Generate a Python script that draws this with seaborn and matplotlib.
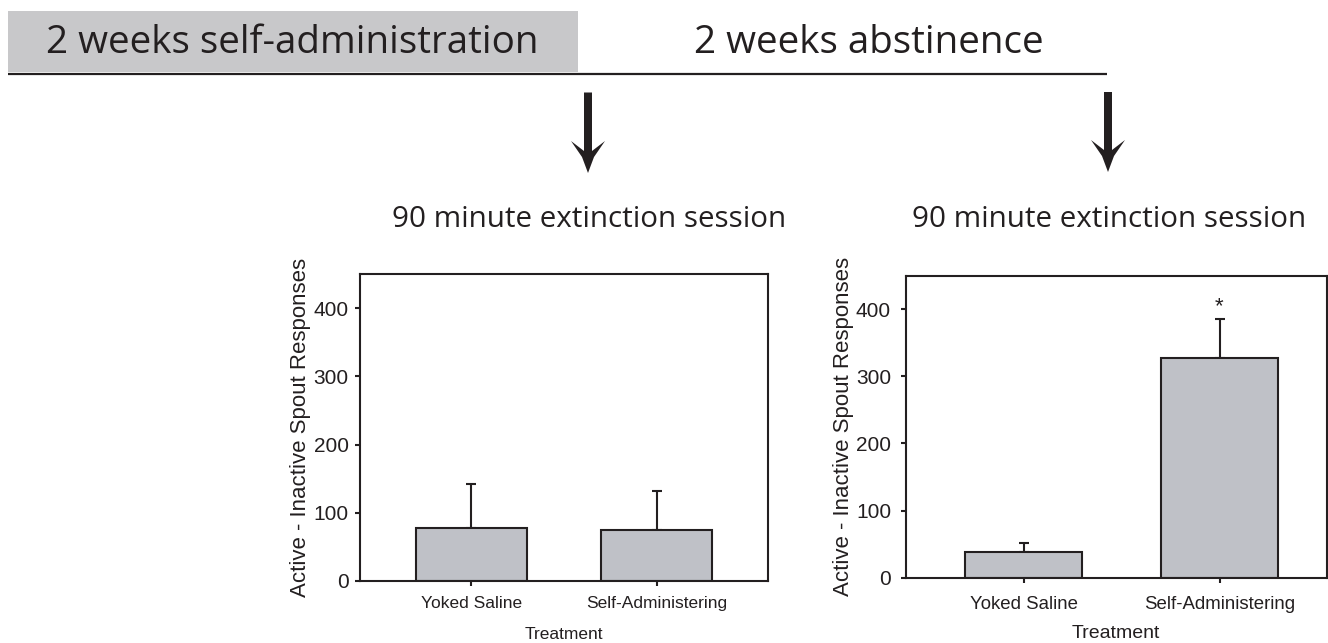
import numpy as np
import matplotlib
matplotlib.use("Agg")
import matplotlib.pyplot as plt
import seaborn as sns

# values
categories = ["Yoked Saline", "Self-Administering"]
early_means = [78, 75]      # after 2 weeks self-administration
early_sem = [64, 57]
late_means = [39, 327]      # after 2 weeks abstinence
late_sem = [13, 58]
yticks = [0, 100, 200, 300, 400]

INK = "#231f20"
BAR = "#bfc1c7"
BOX = "#c8c8ca"
W, H = 1328, 643

sns.set_theme(style="ticks")
plt.rcParams["font.family"] = ["Liberation Sans", "DejaVu Sans"]
header = ["Open Sans", "DejaVu Sans"]

fig = plt.figure(figsize=(W / 100, H / 100), dpi=100)

# overlay in pixel coordinates for the timeline header and arrows
ov = fig.add_axes([0, 0, 1, 1], zorder=0)
ov.set_xlim(0, W)
ov.set_ylim(H, 0)
ov.axis("off")
ov.add_patch(plt.Rectangle((8, 11), 570, 61, color=BOX, lw=0))
ov.plot([8, 1107], [74, 74], color=INK, lw=1.6, solid_capstyle="butt")
ov.text(292, 53, "2 weeks self-administration", ha="center", va="baseline",
        fontsize=27.8, color=INK, family=header)
ov.text(869, 53, "2 weeks abstinence", ha="center", va="baseline",
        fontsize=27.8, color=INK, family=header)


def down_arrow(ax, x, top, tip):
    # shaft 8 px wide, swept head 34 px wide
    xs = [x - 4, x - 4, x - 17, x - 6, x, x + 6, x + 17, x + 4, x + 4]
    ys = [top, tip - 22, tip - 32, tip - 16, tip, tip - 16, tip - 32, tip - 22, top]
    ax.fill(xs, ys, color=INK, lw=0)


down_arrow(ov, 588, 92.5, 173)
down_arrow(ov, 1108, 92, 172)
for cx in (589, 1109):
    ov.text(cx, 227, "90 minute extinction session", ha="center", va="baseline",
            fontsize=21.3, color=INK, family=header)


def panel(rect, means, sem, xmax, xsize, xpad, lsize, lpad, ypad, star=False):
    ax = fig.add_axes(rect, zorder=1)
    ax.errorbar([0, 1], means, yerr=[np.zeros(len(sem)), sem], fmt="none",
                ecolor=INK, elinewidth=1.5, capsize=3.5, capthick=1.5, zorder=1)
    sns.barplot(x=categories, y=means, ax=ax, color=BAR, width=0.6,
                edgecolor=INK, linewidth=1.5, errorbar=None, saturation=1,
                zorder=2)
    ax.set_xlim(-0.6, xmax)
    ax.set_ylim(0, 450)
    ax.set_yticks(yticks)
    for s in ax.spines.values():
        s.set_visible(True)
        s.set_color(INK)
        s.set_linewidth(1.5)
    ax.tick_params(axis="both", direction="out", length=3.6, width=1.5,
                   color=INK, labelcolor=INK)
    ax.tick_params(axis="y", labelsize=15, pad=ypad)
    ax.tick_params(axis="x", labelsize=xsize, pad=xpad)
    ax.set_xlabel("Treatment", fontsize=lsize, color=INK, labelpad=lpad)
    ax.set_ylabel("Active - Inactive Spout Responses", fontsize=16, color=INK,
                  labelpad=1.7)
    if star:
        ax.annotate("*", xy=(1, means[1] + sem[1]), xytext=(0, 1.5),
                    textcoords="offset points", ha="center", va="bottom",
                    fontsize=16, color=INK)
    return ax


panel([360 / W, (H - 581) / H, 408 / W, 307 / H], early_means, early_sem, 1.6,
      xsize=12.5, xpad=7.4, lsize=12.5, lpad=11, ypad=4.5)
panel([906 / W, (H - 577.7) / H, 420.5 / W, 302 / H], late_means, late_sem, 1.546,
      xsize=13.4, xpad=9.9, lsize=14, lpad=8.6, ypad=7.2, star=True)

fig.savefig("out.png", dpi=100)
